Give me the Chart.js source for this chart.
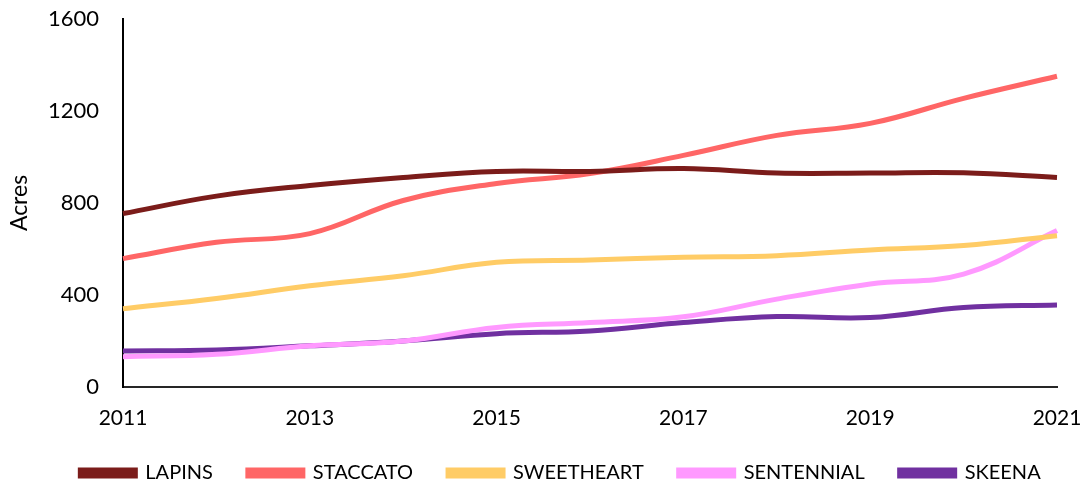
<!DOCTYPE html>
<html>
<head>
<meta charset="utf-8">
<script src="https://cdn.jsdelivr.net/npm/chart.js@4/dist/chart.umd.min.js"></script>
<style>
  html, body { margin: 0; padding: 0; background: #fff; }
  #wrap { width: 1083px; height: 485px; position: relative; }
</style>
</head>
<body>
<div id="wrap"><canvas id="acresChart"></canvas></div>
<script>
const years = ["2011", "2012", "2013", "2014", "2015", "2016", "2017", "2018", "2019", "2020", "2021"];
const yTicks = [0, 400, 800, 1200, 1600];

const lapins = [754, 830, 876, 911, 937, 937, 950, 930, 930, 931, 911];
const staccato = [558, 629, 667, 811, 885, 928, 1007, 1094, 1146, 1255, 1351];
const sweetheart = [340, 385, 440, 484, 542, 552, 564, 571, 596, 615, 658];
const sentennial = [132, 142, 179, 200, 259, 280, 305, 382, 448, 491, 680];
const skeena = [157, 161, 179, 200, 232, 244, 280, 306, 302, 346, 357];

const seriesNames = ["LAPINS", "STACCATO", "SWEETHEART", "SENTENNIAL", "SKEENA"];
const seriesColors = ["#7B1C1A", "#FF6666", "#FFCC66", "#FF99FF", "#7030A0"];
const seriesData = [lapins, staccato, sweetheart, sentennial, skeena];

const fontFamily = "Lato, 'Open Sans', sans-serif";

const datasets = seriesNames.map((name, i) => ({
  label: name,
  data: seriesData[i],
  borderColor: seriesColors[i],
  backgroundColor: seriesColors[i],
  borderWidth: 5,
  pointRadius: 0,
  tension: 0.4,
  fill: false,
}));

// the legend in the original sits a bit right of centre
const legendShift = {
  id: "legendShift",
  afterLayout(chart) {
    chart.legend.left += 32;
    chart.legend.right += 32;
  },
};

new Chart(document.getElementById("acresChart").getContext("2d"), {
  type: "line",
  data: { labels: years, datasets: datasets },
  plugins: [legendShift],
  options: {
    responsive: true,
    maintainAspectRatio: false,
    animation: false,
    layout: { padding: { top: 19, right: 26, left: 0, bottom: -8 } },
    plugins: {
      tooltip: { enabled: false },
      legend: {
        position: "bottom",
        labels: {
          color: "#000",
          font: { family: fontFamily, size: 20 },
          boxWidth: 55,
          boxHeight: 6,
          padding: 35,
        },
      },
    },
    scales: {
      x: {
        type: "category",
        offset: false,
        grid: { display: false, drawTicks: false },
        border: { display: true, color: "#262626", width: 2 },
        ticks: {
          color: "#000",
          font: { family: fontFamily, size: 21 },
          autoSkip: false,
          maxRotation: 0,
          padding: 19,
          callback: function (value, index) {
            return index % 2 === 0 ? years[index] : "";
          },
        },
        afterFit: function (scale) {
          scale.height = 41;
          scale.paddingLeft = 0;
          scale.paddingRight = 0;
        },
      },
      y: {
        min: 0,
        max: 1600,
        afterBuildTicks: function (scale) {
          scale.ticks = yTicks.map((v) => ({ value: v }));
        },
        grid: { display: false, drawTicks: false },
        border: { display: true, color: "#000", width: 2 },
        ticks: {
          color: "#000",
          font: { family: fontFamily, size: 22 },
          padding: 24,
          callback: function (value) { return String(value); },
        },
        title: {
          display: true,
          text: "Acres",
          color: "#000",
          font: { family: fontFamily, size: 23 },
          padding: { top: 6, bottom: 6 },
        },
        afterFit: function (scale) {
          scale.width = 123;
          scale.paddingTop = 0;
          scale.paddingBottom = 0;
        },
      },
    },
  },
});
</script>
</body>
</html>
